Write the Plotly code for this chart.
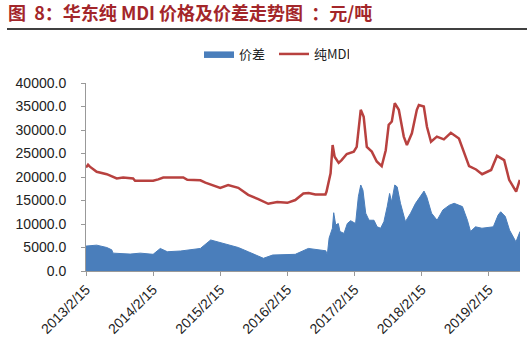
import plotly.graph_objects as go

# 纯MDI price (元/吨)
mdi_dates = ["2013-02-15", "2013-02-26", "2013-03-08", "2013-04-14", "2013-06-08", "2013-08-01",
             "2013-09-05", "2013-10-29", "2013-11-09", "2014-02-15", "2014-03-15", "2014-04-11",
             "2014-07-29", "2014-08-20", "2014-10-30", "2014-11-26", "2015-02-15", "2015-03-30",
             "2015-05-24", "2015-07-17", "2015-09-10", "2015-11-03", "2015-12-22", "2016-02-15",
             "2016-03-29", "2016-05-12", "2016-06-10", "2016-07-16", "2016-09-09", "2016-09-15",
             "2016-10-07", "2016-10-18", "2016-10-29", "2016-11-09", "2016-11-20", "2016-12-06",
             "2017-01-03", "2017-02-10", "2017-02-26", "2017-03-20", "2017-04-05", "2017-04-22",
             "2017-05-19", "2017-06-15", "2017-07-12", "2017-08-03", "2017-08-19", "2017-09-05",
             "2017-09-21", "2017-10-13", "2017-11-09", "2017-11-26", "2017-12-23", "2018-01-19",
             "2018-01-30", "2018-02-26", "2018-03-15", "2018-04-06", "2018-05-08", "2018-06-15",
             "2018-07-23", "2018-09-05", "2018-10-02", "2018-10-30", "2018-12-07", "2019-01-09",
             "2019-02-27", "2019-03-31", "2019-05-09", "2019-06-05", "2019-07-13", "2019-08-02"]
mdi_values = [22000, 22600, 22200, 21100, 20600, 19700,
              19900, 19700, 19200, 19200, 19500, 19900,
              19900, 19400, 19300, 18800, 17700, 18300,
              17700, 16200, 15300, 14300, 14700, 14500,
              15100, 16500, 16600, 16300, 16300, 16900,
              20800, 26800, 24300, 23600, 23000, 23600,
              24900, 25400, 26400, 34300, 32800, 26400,
              25400, 23300, 22300, 25700, 31100, 31800,
              35700, 34300, 28600, 26800, 29300, 34300,
              35300, 35000, 30700, 27500, 28600, 28000,
              29400, 28200, 25400, 22300, 21600, 20600,
              21500, 24500, 23600, 19400, 16900, 19400]

# 价差 spread (元/吨)
spread_dates = ["2013-02-15", "2013-04-14", "2013-06-08", "2013-07-05", "2013-07-12", "2013-10-13",
                "2013-12-07", "2014-02-15", "2014-03-26", "2014-05-03", "2014-07-14", "2014-09-23",
                "2014-10-30", "2014-12-25", "2015-03-17", "2015-05-24", "2015-07-17", "2015-08-25",
                "2015-10-08", "2015-11-27", "2016-02-04", "2016-03-29", "2016-06-08", "2016-08-05",
                "2016-09-11", "2016-09-19", "2016-09-29", "2016-10-17", "2016-10-24", "2016-11-04",
                "2016-11-18", "2016-11-27", "2016-12-19", "2017-01-06", "2017-01-24", "2017-02-20",
                "2017-03-07", "2017-03-20", "2017-04-01", "2017-04-16", "2017-05-04", "2017-05-31",
                "2017-06-17", "2017-07-06", "2017-07-24", "2017-08-11", "2017-08-24", "2017-09-04",
                "2017-09-21", "2017-10-04", "2017-10-22", "2017-11-18", "2017-12-16", "2018-01-12",
                "2018-02-15", "2018-02-27", "2018-03-14", "2018-04-09", "2018-05-09", "2018-06-10",
                "2018-07-15", "2018-08-10", "2018-09-24", "2018-10-21", "2018-11-07", "2018-12-04",
                "2019-01-08", "2019-03-11", "2019-04-06", "2019-04-20", "2019-05-15", "2019-06-07",
                "2019-07-12", "2019-08-03"]
spread_values = [5300, 5500, 5000, 4500, 3800, 3600,
                 3800, 3550, 4800, 4100, 4250, 4600,
                 4800, 6600, 5700, 5000, 4100, 3400,
                 2700, 3400, 3400, 3550, 4800, 4500,
                 4300, 3400, 7000, 9100, 12400, 9800,
                 10100, 8400, 8000, 10100, 10700, 10100,
                 15800, 18300, 17200, 12300, 10800, 10800,
                 9400, 9100, 10500, 13700, 16500, 14700,
                 18300, 17900, 14400, 10500, 12300, 14400,
                 16200, 17000, 15800, 12300, 10800, 13000,
                 14000, 14400, 13700, 10800, 8400, 9400,
                 9100, 9400, 11900, 12600, 11600, 8700,
                 6200, 8400]

x_ticks = ["2013-02-15", "2014-02-15", "2015-02-15", "2016-02-15",
           "2017-02-15", "2018-02-15", "2019-02-15"]
x_tick_labels = ["2013/2/15", "2014/2/15", "2015/2/15", "2016/2/15",
                 "2017/2/15", "2018/2/15", "2019/2/15"]
y_ticks = [0, 5000, 10000, 15000, 20000, 25000, 30000, 35000, 40000]
y_tick_labels = ["%.1f" % v for v in y_ticks]

fig = go.Figure()
fig.add_trace(go.Scatter(
    x=spread_dates, y=spread_values, name="价差", mode="lines",
    fill="tozeroy", fillcolor="#4a7ebb", line=dict(color="#4a7ebb", width=1)))
fig.add_trace(go.Scatter(
    x=mdi_dates, y=mdi_values, name="纯MDI", mode="lines",
    line=dict(color="#b8413f", width=2.5)))

font_family = "Liberation Sans, Arial, Noto Sans CJK SC, sans-serif"
W, H = 527, 355
L, R, T, B = 86, 7, 83, 84
PW, PH = W - L - R, H - T - B

fig.update_layout(
    width=W, height=H,
    margin=dict(l=L, r=R, t=T, b=B),
    paper_bgcolor="white", plot_bgcolor="white",
    font=dict(family=font_family, size=12, color="#222"),
    title=dict(text="<b>图\u00a0\u00a08：华东纯 MDI 价格及价差走势图\u00a0\u00a0：元/吨</b>",
               x=8 / W, xanchor="left", xref="container",
               y=1 - 14 / H, yanchor="middle", yref="container",
               font=dict(family="Noto Sans CJK SC, sans-serif", size=18, color="#a3262a")),
    showlegend=True,
    legend=dict(orientation="h", x=(199 - L) / PW, xanchor="left",
                y=(271 - 54) / PH, yanchor="middle",
                font=dict(family="Noto Sans CJK SC, Liberation Sans, sans-serif", size=13, color="#222"),
                bgcolor="rgba(0,0,0,0)", itemwidth=30, entrywidth=30,
                entrywidthmode="pixels"),
    xaxis=dict(type="date", range=["2013-02-15", "2019-08-03"], automargin=False,
               tickvals=x_ticks, ticktext=x_tick_labels, tickangle=-45,
               showgrid=False, zeroline=False, showline=True, linecolor="#999",
               ticks="outside", ticklen=4, tickcolor="#999",
               tickfont=dict(size=14, color="#222")),
    yaxis=dict(range=[0, 40000], tickvals=y_ticks, ticktext=y_tick_labels, automargin=False,
               showgrid=False, zeroline=False, showline=True, linecolor="#999",
               ticks="outside", ticklen=4, tickcolor="#999", ticklabelstandoff=12,
               tickfont=dict(size=14, color="#222")),
    shapes=[dict(type="line", xref="paper", yref="paper",
                 x0=(7 - L) / PW, x1=(W - L) / PW, y0=(271 - 29) / PH, y1=(271 - 29) / PH,
                 line=dict(color="black", width=1.5))],
)

fig.write_html("out.html", config={"displayModeBar": False},
               post_script="document.body.style.margin='0';")
